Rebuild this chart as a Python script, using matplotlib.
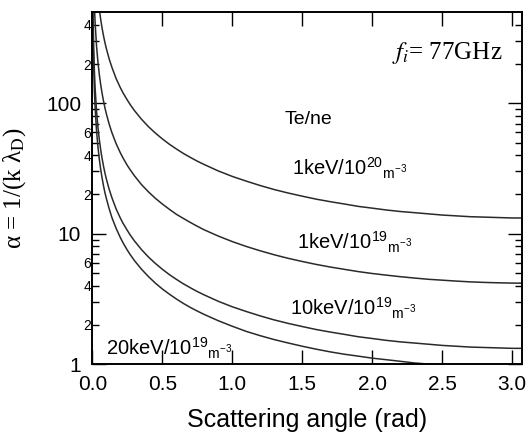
import numpy as np
import matplotlib.pyplot as plt
from matplotlib.ticker import FixedLocator, FixedFormatter

# scattering angle (rad)
angle = [0.005, 0.01, 0.015, 0.02, 0.03, 0.04, 0.05, 0.06, 0.07, 0.08, 0.09, 0.1, 0.12,
         0.14, 0.17, 0.2, 0.22, 0.25, 0.27, 0.3, 0.35, 0.4, 0.45, 0.5, 0.55, 0.6, 0.65,
         0.7, 0.75, 0.8, 0.9, 1.0, 1.1, 1.2, 1.3, 1.4, 1.5, 1.6, 1.7, 1.8, 1.9, 2.0, 2.1,
         2.2, 2.3, 2.4, 2.5, 2.6, 2.7, 2.8, 2.9, 3.0, 3.14]

# alpha = 1/(k lambda_D)
alpha_1kev_1e20 = [5280, 2640, 1760, 1320, 880, 660, 528, 440, 377, 330, 293, 264, 220,
                   189, 155, 132, 120, 106, 98.1, 88.3, 75.8, 66.4, 59.2, 53.4, 48.6, 44.7,
                   41.3, 38.5, 36.0, 33.9, 30.3, 27.5, 25.3, 23.4, 21.8, 20.5, 19.4, 18.4,
                   17.6, 16.9, 16.2, 15.7, 15.2, 14.8, 14.5, 14.2, 13.9, 13.7, 13.5, 13.4,
                   13.3, 13.2, 13.2]
alpha_1kev_1e19 = [1668, 834, 556, 417, 278, 208.5, 166.8, 139, 119.2, 104.3, 92.7, 83.4,
                   69.6, 59.6, 49.1, 41.8, 38.0, 33.4, 31.0, 27.9, 23.9, 21.0, 18.7, 16.9,
                   15.4, 14.1, 13.1, 12.2, 11.4, 10.7, 9.59, 8.70, 7.98, 7.39, 6.89, 6.47,
                   6.12, 5.81, 5.55, 5.33, 5.12, 4.95, 4.81, 4.68, 4.57, 4.47, 4.40, 4.33,
                   4.27, 4.23, 4.20, 4.18, 4.17]
alpha_10kev_1e19 = [528, 264, 176, 132, 88.0, 66.0, 52.8, 44.0, 37.7, 33.0, 29.3, 26.4,
                    22.0, 18.9, 15.5, 13.2, 12.0, 10.6, 9.81, 8.83, 7.58, 6.64, 5.92, 5.34,
                    4.86, 4.47, 4.13, 3.85, 3.60, 3.39, 3.03, 2.75, 2.53, 2.34, 2.18, 2.05,
                    1.94, 1.84, 1.76, 1.69, 1.62, 1.57, 1.52, 1.48, 1.45, 1.42, 1.39, 1.37,
                    1.35, 1.34, 1.33, 1.32, 1.32]
alpha_20kev_1e19 = [373, 187, 124, 93.3, 62.2, 46.7, 37.3, 31.1, 26.7, 23.3, 20.7, 18.7,
                    15.6, 13.3, 11.0, 9.35, 8.50, 7.48, 6.93, 6.24, 5.36, 4.70, 4.18, 3.77,
                    3.44, 3.16, 2.92, 2.72, 2.55, 2.40, 2.15, 1.95, 1.78, 1.65, 1.54, 1.45,
                    1.37, 1.30, 1.24, 1.19, 1.15, 1.11, 1.08, 1.05, 1.02, 1.00, 0.983, 0.968,
                    0.956, 0.947, 0.940, 0.936, 0.933]

x_ticks = [0.0, 0.5, 1.0, 1.5, 2.0, 2.5, 3.0]
y_major = [1, 10, 100]
y_minor = [2, 3, 4, 5, 6, 7, 8, 9, 20, 30, 40, 50, 60, 70, 80, 90, 200, 300, 400]
y_minor_labels = ['2', '', '4', '', '6', '', '', '', '2', '', '4', '', '6', '', '', '',
                  '2', '', '4']

plt.rcParams['font.family'] = ['Liberation Sans', 'DejaVu Sans']
plt.rcParams['mathtext.fontset'] = 'custom'
plt.rcParams['mathtext.rm'] = 'Liberation Sans'

fig = plt.figure(figsize=(5.32, 4.36), dpi=100)
ax = fig.add_axes([0.1735, 0.165, 0.807, 0.807])

line_kw = dict(color='#2a2a2a', lw=1.1)
ax.plot(angle, alpha_1kev_1e20, **line_kw)
ax.plot(angle, alpha_1kev_1e19, **line_kw)
ax.plot(angle, alpha_10kev_1e19, **line_kw)
ax.plot(angle, alpha_20kev_1e19, **line_kw)

ax.set_yscale('log')
ax.set_xlim(0, 3.067)
ax.set_ylim(1, 500)

ax.xaxis.set_major_locator(FixedLocator(x_ticks))
ax.set_xticklabels([f'{v:.1f}' for v in x_ticks])
ax.xaxis.set_minor_locator(FixedLocator([]))
ax.yaxis.set_major_locator(FixedLocator(y_major))
ax.yaxis.set_major_formatter(FixedFormatter([str(v) for v in y_major]))
ax.yaxis.set_minor_locator(FixedLocator(y_minor))
ax.yaxis.set_minor_formatter(FixedFormatter(y_minor_labels))

ax.tick_params(which='both', direction='in', top=True, right=True, width=1.0, colors='black')
ax.tick_params(which='major', length=10, labelsize=15)
ax.tick_params(axis='x', which='major', pad=8)
ax.tick_params(axis='y', which='major', pad=8)
ax.tick_params(axis='y', which='minor', length=5, labelsize=10, pad=1)
for s in ax.spines.values():
    s.set_linewidth(1.4)

ax.set_xlabel('Scattering angle (rad)', fontsize=18, labelpad=10)
ax.set_ylabel(r'α = 1/(k λ$_{\mathrm{D}}$)', fontsize=18, family='Liberation Serif',
              math_fontfamily='stix')
ax.yaxis.set_label_coords(-0.150, 0.5)

ax.text(0.956, 0.884, r'$f_i$= 77GHz', transform=ax.transAxes, ha='right', va='center',
        fontsize=18, family='Liberation Serif', math_fontfamily='stix')
ax.text(0.449, 0.696, 'Te/ne', transform=ax.transAxes, ha='left', va='center', fontsize=14)
ax.text(0.465, 0.557, r'1keV/10$^{20}$$_{\mathrm{m}^{-3}}$', transform=ax.transAxes,
        ha='left', va='center', fontsize=14.5)
ax.text(0.477, 0.347, r'1keV/10$^{19}$$_{\mathrm{m}^{-3}}$', transform=ax.transAxes,
        ha='left', va='center', fontsize=14.5)
ax.text(0.460, 0.159, r'10keV/10$^{19}$$_{\mathrm{m}^{-3}}$', transform=ax.transAxes,
        ha='left', va='center', fontsize=14.5)
ax.text(0.032, 0.045, r'20keV/10$^{19}$$_{\mathrm{m}^{-3}}$', transform=ax.transAxes,
        ha='left', va='center', fontsize=14.5)

fig.savefig('out.png', dpi=100)
